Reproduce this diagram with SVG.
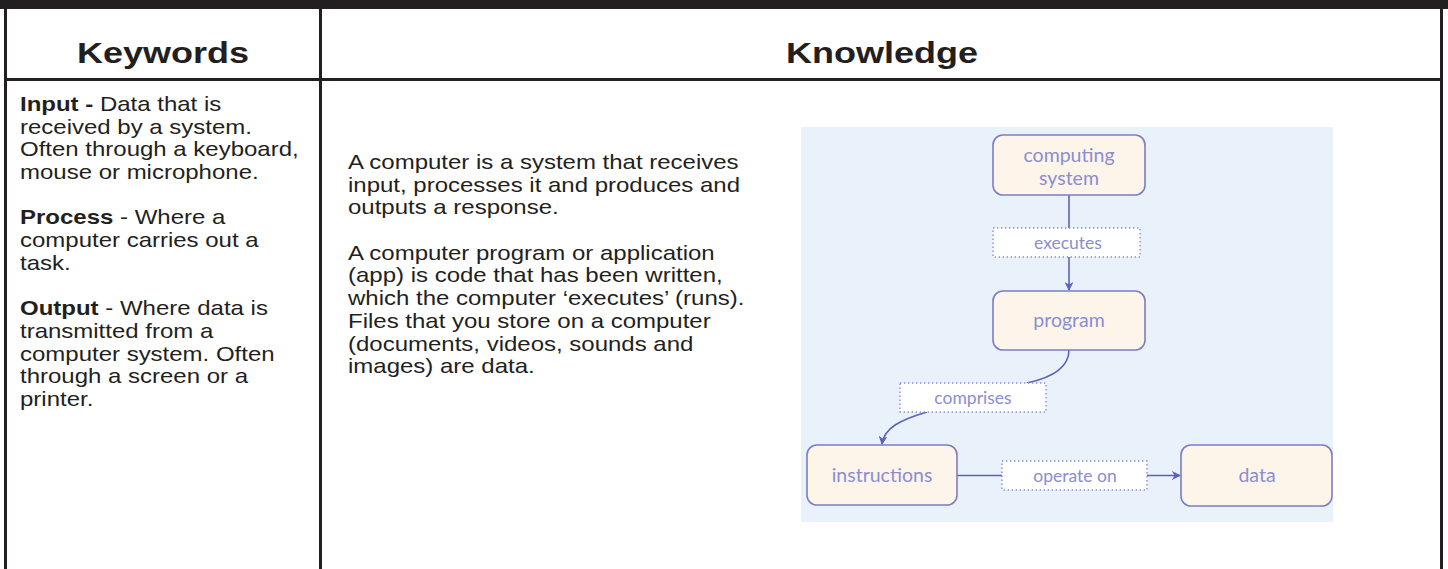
<svg xmlns="http://www.w3.org/2000/svg" width="1448" height="569" viewBox="0 0 1448 569">
<defs>
<style>
.frame{stroke:#231f20;stroke-width:3;fill:none}
.hdr{font-family:"Liberation Sans",Arial,sans-serif;font-weight:bold;font-size:30px;fill:#231f20;text-anchor:middle}
.body{font-family:"Liberation Sans",Arial,sans-serif;font-size:20px;fill:#231f20}
.b{font-weight:bold}
.node{fill:#fdf5ea;stroke:#7a7ec6;stroke-width:1.6}
.lbl{fill:#ffffff;stroke:#8b8fd0;stroke-width:1.4;stroke-dasharray:1.4 2.6}
.nt{font-family:Lato,"Open Sans",sans-serif;font-size:19.5px;fill:#8a8ed0;text-anchor:middle}
.lt{font-family:Lato,"Open Sans",sans-serif;font-size:17.5px;fill:#8a8ed0;text-anchor:middle}
.edge{fill:none;stroke:#5d63b8;stroke-width:1.6}
</style>
<marker id="arr" viewBox="0 0 10 10" refX="9" refY="5" markerWidth="9" markerHeight="9" markerUnits="userSpaceOnUse" orient="auto">
<path d="M0,0 L10,5 L0,10 L3,5 z" fill="#5d63b8"/>
</marker>
</defs>
<rect width="1448" height="569" fill="#ffffff"/>
<g id="frame">
<rect x="0" y="0" width="1448" height="9" fill="#231f20"/>
<line class="frame" x1="5.5" y1="8" x2="5.5" y2="569"/>
<line class="frame" x1="1441.5" y1="8" x2="1441.5" y2="569"/>
<line class="frame" x1="320.5" y1="8" x2="320.5" y2="569"/>
<line class="frame" x1="5" y1="79.5" x2="1443" y2="79.5"/>
</g>
<g id="headers">
<g transform="matrix(1.2,0,0,1,-32.6,0)"><text class="hdr" x="163" y="63">Keywords</text></g>
<g transform="matrix(1.2,0,0,1,-176.4,0)"><text class="hdr" x="882" y="63">Knowledge</text></g>
</g>
<g id="keywords" transform="matrix(1.2,0,0,1,-4,0)">
<text class="body" x="20" y="111"><tspan class="b">Input -</tspan> Data that is</text>
<text class="body" x="20" y="133.7">received by a system.</text>
<text class="body" x="20" y="156.4">Often through a keyboard,</text>
<text class="body" x="20" y="179.1">mouse or microphone.</text>
<text class="body" x="20" y="224.5"><tspan class="b">Process</tspan> - Where a</text>
<text class="body" x="20" y="247.2">computer carries out a</text>
<text class="body" x="20" y="269.9">task.</text>
<text class="body" x="20" y="315.3"><tspan class="b">Output</tspan> - Where data is</text>
<text class="body" x="20" y="338">transmitted from a</text>
<text class="body" x="20" y="360.7">computer system. Often</text>
<text class="body" x="20" y="383.4">through a screen or a</text>
<text class="body" x="20" y="406.1">printer.</text>
</g>
<g id="knowledge" transform="matrix(1.2,0,0,1,-69.6,0)">
<text class="body" x="348" y="169">A computer is a system that receives</text>
<text class="body" x="348" y="191.7">input, processes it and produces and</text>
<text class="body" x="348" y="214.4">outputs a response.</text>
<text class="body" x="348" y="259.8">A computer program or application</text>
<text class="body" x="348" y="282.5">(app) is code that has been written,</text>
<text class="body" x="348" y="305.2">which the computer ‘executes’ (runs).</text>
<text class="body" x="348" y="327.9">Files that you store on a computer</text>
<text class="body" x="348" y="350.6">(documents, videos, sounds and</text>
<text class="body" x="348" y="373.3">images) are data.</text>
</g>
<rect id="diagram-bg" x="801" y="127" width="532" height="395" fill="#e9f1fa"/>
<g id="connectors">
<line class="edge" x1="1069" y1="195" x2="1069" y2="228"/>
<line class="edge" x1="1069" y1="257" x2="1069" y2="290" marker-end="url(#arr)"/>
<path class="edge" d="M1069,350 C1069,368 1050,378 1027,383"/>
<path class="edge" d="M927,412 C900,420 884,428 882,444" marker-end="url(#arr)"/>
<line class="edge" x1="957" y1="475.5" x2="1002" y2="475.5"/>
<line class="edge" x1="1147" y1="475.5" x2="1180" y2="475.5" marker-end="url(#arr)"/>
<rect class="lbl" x="993" y="228" width="147" height="29"/>
<text class="lt" x="1068" y="249">executes</text>
<rect class="lbl" x="900" y="383" width="146" height="29"/>
<text class="lt" x="973" y="404">comprises</text>
<rect class="lbl" x="1002" y="461" width="145" height="29"/>
<text class="lt" x="1075" y="482">operate on</text>
</g>
<g id="node-computing-system">
<rect class="node" x="993" y="135" width="152" height="60" rx="10"/>
<text class="nt" x="1069" y="162">computing</text>
<text class="nt" x="1069" y="185">system</text>
</g>
<g id="node-program">
<rect class="node" x="993" y="291" width="152" height="59" rx="10"/>
<text class="nt" x="1069" y="327">program</text>
</g>
<g id="node-instructions">
<rect class="node" x="807" y="445" width="150" height="60" rx="10"/>
<text class="nt" x="882" y="482">instructions</text>
</g>
<g id="node-data">
<rect class="node" x="1181" y="445" width="151" height="61" rx="10"/>
<text class="nt" x="1257" y="482">data</text>
</g>
</svg>
